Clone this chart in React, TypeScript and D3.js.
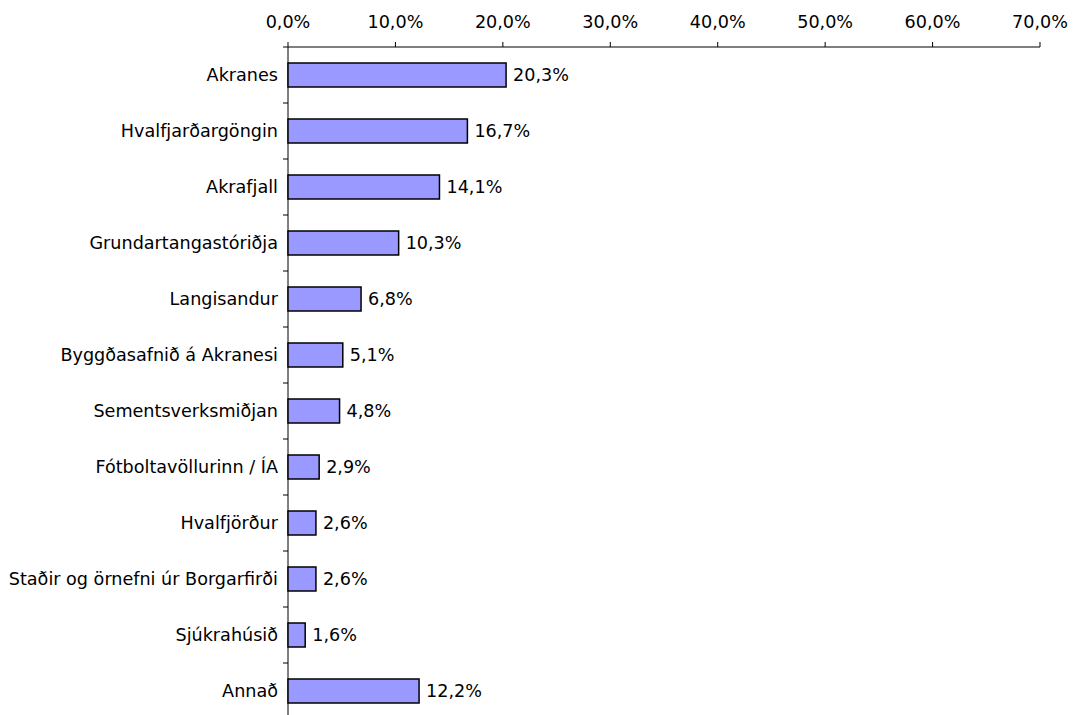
import React from "react";
import * as d3 from "d3";

const categories = [
  "Akranes",
  "Hvalfjarðargöngin",
  "Akrafjall",
  "Grundartangastóriðja",
  "Langisandur",
  "Byggðasafnið á Akranesi",
  "Sementsverksmiðjan",
  "Fótboltavöllurinn / ÍA",
  "Hvalfjörður",
  "Staðir og örnefni úr Borgarfirði",
  "Sjúkrahúsið",
  "Annað",
];
const values = [20.3, 16.7, 14.1, 10.3, 6.8, 5.1, 4.8, 2.9, 2.6, 2.6, 1.6, 12.2];
const xTicks = [0, 10, 20, 30, 40, 50, 60, 70];

const W = 1075;
const H = 715;
const left = 288;
const right = 1040;
const top = 47;
const band = 56;

const fmt = (v: number) => v.toFixed(1).replace(".", ",") + "%";

export default function App() {
  const x = d3.scaleLinear().domain([0, 70]).range([left, right]);
  const y = d3
    .scaleBand<string>()
    .domain(categories)
    .range([top, top + band * categories.length])
    .paddingInner(0.5714)
    .paddingOuter(0.2857);
  const font = "DejaVu Sans, Verdana, sans-serif";
  const fs = 17.6;
  return (
    <svg
      width={W}
      height={H}
      style={{ position: "absolute", left: 0, top: 0, background: "#fff" }}
      fontFamily={font}
    >
      <line x1={left} x2={right} y1={top} y2={top} stroke="#000" strokeWidth={1} />
      {xTicks.map((t) => (
        <g key={t}>
          <line x1={x(t)} x2={x(t)} y1={top - 5} y2={top} stroke="#000" />
          <text x={x(t)} y={28} textAnchor="middle" fontSize={fs} fill="#000">
            {fmt(t)}
          </text>
        </g>
      ))}
      <line x1={left} x2={left} y1={top} y2={top + band * categories.length} stroke="#000" />
      {d3.range(categories.length + 1).map((i) => (
        <line key={i} x1={left - 5} x2={left} y1={top + i * band} y2={top + i * band} stroke="#000" />
      ))}
      {categories.map((c, i) => {
        const yy = y(c)!;
        const h = y.bandwidth();
        return (
          <g key={c}>
            <rect
              x={x(0)}
              y={yy}
              width={x(values[i]) - x(0)}
              height={h}
              fill="#9999FF"
              stroke="#000"
              strokeWidth={1.5}
            />
            <text x={left - 10} y={yy + h / 2} dy="0.35em" textAnchor="end" fontSize={fs} fill="#000">
              {c}
            </text>
            <text x={x(values[i]) + 7} y={yy + h / 2} dy="0.35em" fontSize={fs} fill="#000">
              {fmt(values[i])}
            </text>
          </g>
        );
      })}
    </svg>
  );
}
